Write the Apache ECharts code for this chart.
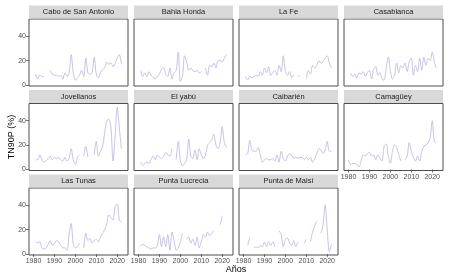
<!DOCTYPE html>
<html>
<head>
<meta charset="utf-8">
<script src="https://cdn.jsdelivr.net/npm/echarts@6/dist/echarts.min.js"></script>
<style>
  html, body { margin: 0; padding: 0; background: #fff; }
  #chart { width: 450px; height: 278px; }
</style>
</head>
<body>
<div id="chart"></div>
<script>
// TN90P (%) per station, 1980-2023 (null = missing year)
const years = [1980, 1981, 1982, 1983, 1984, 1985, 1986, 1987, 1988, 1989,
  1990, 1991, 1992, 1993, 1994, 1995, 1996, 1997, 1998, 1999,
  2000, 2001, 2002, 2003, 2004, 2005, 2006, 2007, 2008, 2009,
  2010, 2011, 2012, 2013, 2014, 2015, 2016, 2017, 2018, 2019,
  2020, 2021, 2022, 2023];
const xTicks = [1980, 1990, 2000, 2010, 2020];
const yTicks = [0, 20, 40];

const stations = ["Cabo de San Antonio", "Bahia Honda", "La Fe", "Casablanca",
  "Jovellanos", "El yabú", "Caibarién", "Camagüey",
  "Las Tunas", "Punta Lucrecia", "Punta de Maisí"];

const caboSanAntonio = [null,9,5,8,7,7,null,null,12,9,8,8,7,8,5,10,7,10,25,10,4,6,8,12,7,22,10,9,10,23,9,6,10,13,14,19,17,18,15,18,22,25,17,null];
const bahiaHonda = [null,12,7,10,7,11,8,6,5,7,9,13,14,9,7,14,5,10,12,27,3,7,24,19,12,14,12,11,12,10,11,null,14,8,16,15,18,14,20,20,19,22,25,null];
const laFe = [null,7,4,7,6,7,8,7,11,8,14,10,15,8,10,12,8,16,11,24,12,8,11,6,8,null,8,7,null,null,5,12,9,16,14,16,20,18,19,22,24,18,14,null];
const casablanca = [null,10,7,9,6,10,9,11,7,10,12,5,13,15,8,10,5,4,14,23,12,5,8,18,10,16,14,18,11,19,22,8,16,11,22,12,23,16,22,20,27,19,14,null];
const jovellanos = [null,8,8,12,8,6,7,9,11,8,10,9,10,8,7,10,7,9,17,8,4,10,12,null,11,19,10,null,null,12,23,11,15,19,30,40,41,34,7,28,51,34,17,null];
const elYabu = [null,6,3,5,6,5,8,11,8,12,10,9,11,14,12,11,17,null,8,23,7,3,5,8,25,11,9,16,8,17,12,9,12,20,22,24,29,20,17,22,35,22,18,null];
const caibarien = [null,12,13,24,16,15,15,18,12,6,8,9,8,8,9,7,12,6,15,9,7,11,13,12,9,10,9,10,10,8,10,8,10,6,9,13,17,16,13,16,23,15,15,null];
const camaguey = [8,4,5,5,4,2,7,12,11,13,14,11,12,8,12,9,7,19,21,11,5,15,20,18,12,7,null,8,11,22,15,10,7,11,7,15,19,20,22,26,40,23,22,null];
const lasTunas = [null,10,9,10,5,4,5,8,11,7,9,11,10,7,5,5,3,16,25,8,5,6,9,null,5,17,11,13,9,11,12,10,14,17,20,25,32,30,28,39,41,28,26,null];
const puntaLucrecia = [null,6,8,7,6,5,4,5,5,7,16,6,14,6,16,3,18,11,3,5,10,17,null,12,14,9,12,7,14,5,10,16,14,18,15,17,19,null,null,24,31,null,null,null];
const puntaMaisi = [null,null,7,14,null,5,6,5,7,6,10,6,10,7,10,6,null,19,16,6,12,13,9,7,11,6,10,null,null,9,12,null,10,18,23,27,null,17,24,40,20,2,8,null];

const values = [caboSanAntonio, bahiaHonda, laFe, casablanca, jovellanos, elYabu,
  caibarien, camaguey, lasTunas, puntaLucrecia, puntaMaisi];

// panel layout
const colLeft = [29, 134, 239, 344];
const rowTop = [19, 103.5, 188];
const panelW = 99;
const panelH = 67;
const stripH = 13;
const font = "Liberation Sans, Arial, sans-serif";

let chart = echarts.init(document.getElementById("chart"), null, { renderer: "canvas" });

let grids = [], xAxes = [], yAxes = [], series = [], graphics = [];

stations.forEach(function(name, i) {
  let r = Math.floor(i / 4), c = i % 4;
  let showX = r === 2 || i === 7;
  let showY = c === 0;
  grids.push({
    left: colLeft[c], top: rowTop[r], width: panelW, height: panelH,
    show: true, borderColor: "#4d4d4d", borderWidth: 1, backgroundColor: "#fff"
  });
  xAxes.push({
    type: "value", gridIndex: i, min: 1977.85, max: 2025.15,
    splitLine: { show: false },
    axisLine: { show: false },
    axisTick: { show: showX, customValues: xTicks, length: 3, lineStyle: { color: "#4d4d4d", width: 0.8 } },
    axisLabel: {
      show: showX, customValues: xTicks, fontSize: 7, color: "#4d4d4d", margin: 3, fontFamily: font,
      formatter: function(v) { return String(v); }
    }
  });
  yAxes.push({
    type: "value", gridIndex: i, min: -0.8, max: 54.1,
    splitLine: { show: false },
    axisLine: { show: false },
    axisTick: { show: showY, customValues: yTicks, length: 3, lineStyle: { color: "#4d4d4d", width: 0.8 } },
    axisLabel: { show: showY, customValues: yTicks, fontSize: 7, color: "#4d4d4d", margin: 3, fontFamily: font }
  });
  series.push({
    name: name, type: "line", xAxisIndex: i, yAxisIndex: i,
    data: years.map(function(y, k) { return [y, values[i][k] === null ? "-" : values[i][k]]; }),
    showSymbol: false, symbol: "none", smooth: 0.3, connectNulls: false,
    lineStyle: { color: "#b7b4e0", width: 0.8 },
    silent: true
  });
  // strip label
  graphics.push({
    type: "rect",
    shape: { x: colLeft[c], y: rowTop[r] - stripH - 0.5, width: panelW, height: stripH },
    style: { fill: "#d9d9d9" }
  });
  graphics.push({
    type: "text",
    x: colLeft[c] + panelW / 2, y: rowTop[r] - stripH / 2 - 0.5,
    style: { text: name, fontSize: 7.5, fill: "#1a1a1a", fontFamily: font, align: "center", verticalAlign: "middle" }
  });
});

graphics.push({
  type: "text", x: 236, y: 270,
  style: { text: "Años", fontSize: 9, fill: "#000", fontFamily: font, align: "center", verticalAlign: "middle" }
});
graphics.push({
  type: "text", x: 12, y: 137, rotation: Math.PI / 2,
  style: { text: "TN90P (%)", fontSize: 9, fill: "#000", fontFamily: font, align: "center", verticalAlign: "middle" }
});

let option = {
  animation: false,
  backgroundColor: "#fff",
  grid: grids,
  xAxis: xAxes,
  yAxis: yAxes,
  series: series,
  graphic: graphics
};
chart.setOption(option);
</script>
</body>
</html>
